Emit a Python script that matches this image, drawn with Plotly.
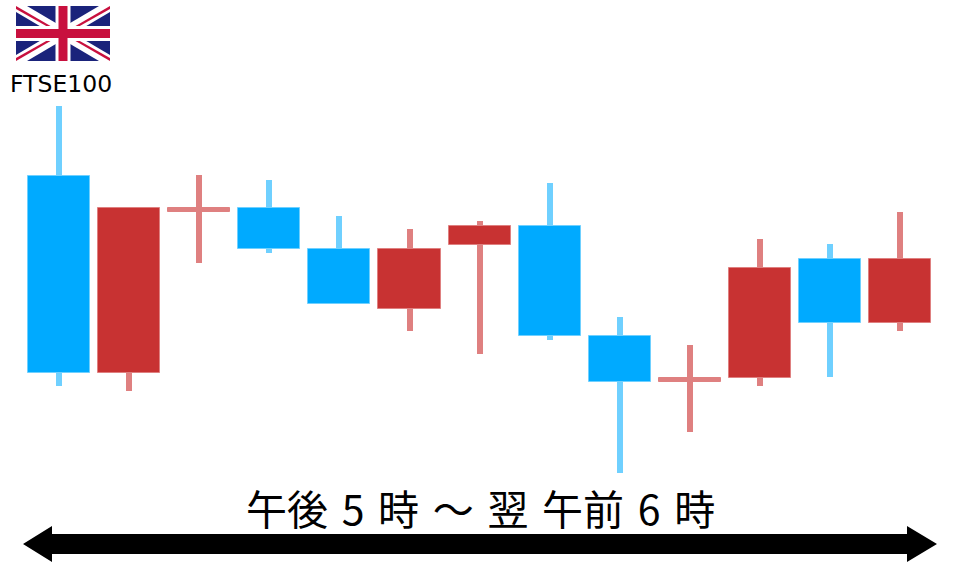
import plotly.graph_objects as go

# Price levels (arbitrary units: no axis is shown)
sessions = list(range(13))
open_ = [194, 359, 359, 318, 263, 318, 341, 231, 185, 189, 299, 244, 308]
close = [391, 194, 355, 359, 318, 258, 322, 341, 231, 185, 189, 308, 244]
high = [461, 360, 392, 387, 351, 338, 346, 384, 250, 222, 328, 323, 355]
low = [181, 176, 304, 314, 264, 236, 213, 227, 94, 135, 181, 190, 236]

title_text = "午後\u20045\u2004時\u2004～\u2004翌\u2004午前\u20046\u2004時"
index_name = "FTSE100"

BLUE, BLUE_L = "#00AAFF", "#6FD0FF"
RED, RED_L = "#C83232", "#DF8080"
W, H = 960, 567


def px(x):
    return x / W


def py(y):
    return 1 - y / H


def poly(points, color):
    d = "M" + " L".join(f"{px(x):.5f},{py(y):.5f}" for x, y in points) + " Z"
    return dict(type="path", xref="paper", yref="paper", path=d,
                fillcolor=color, line=dict(width=0), layer="above")


is_up = [c > o for o, c in zip(open_, close)]
wick_col = [BLUE_L if u else RED_L for u in is_up]
body_col = []
for o, c, u in zip(open_, close, is_up):
    if abs(c - o) < 6:
        body_col.append(BLUE_L if u else RED_L)
    else:
        body_col.append(BLUE if u else RED)

fig = go.Figure()
fig.add_trace(go.Bar(
    x=sessions, base=low, y=[h - l for h, l in zip(high, low)], width=6 / 70,
    marker=dict(color=wick_col, line=dict(width=0)), hoverinfo="skip"))
fig.add_trace(go.Bar(
    x=sessions, base=[min(o, c) for o, c in zip(open_, close)],
    y=[abs(c - o) for o, c in zip(open_, close)], width=62 / 70,
    marker=dict(color=body_col, line=dict(color=wick_col, width=1))))

# Union Jack
x0, x1, y0, y1 = 16, 110, 6, 61
xc, yc = (x0 + x1) / 2, (y0 + y1) / 2
NAVY, CRIM, WHITE = "#1A237B", "#C8103E", "#FFFFFF"
shapes = [poly([(x0, y0), (x1, y0), (x1, y1), (x0, y1)], NAVY)]
for (ax, ay), (bx, by) in [((x0, y0), (x1, y1)), ((x0, y1), (x1, y0))]:
    s = 1 if by > ay else -1
    shapes.append(poly([(ax, ay + 6 * s), (ax, ay), (ax + 11, ay),
                        (bx, by - 6 * s), (bx, by), (bx - 11, by)], WHITE))
shapes += [
    poly([(x0, y0), (x0, y0 + 3), (xc - 7, yc - 2), (xc - 3, yc - 2)], CRIM),
    poly([(x1, y1), (x1, y1 - 3), (xc + 7, yc + 2), (xc + 3, yc + 2)], CRIM),
    poly([(x1, y0), (x1, y0 + 3), (xc + 7, yc - 2), (xc + 3, yc - 2)], CRIM),
    poly([(x0, y1), (x0, y1 - 3), (xc - 7, yc + 2), (xc - 3, yc + 2)], CRIM),
    poly([(xc - 7.5, y0), (xc + 7.5, y0), (xc + 7.5, y1), (xc - 7.5, y1)], WHITE),
    poly([(x0, yc - 7.5), (x1, yc - 7.5), (x1, yc + 7.5), (x0, yc + 7.5)], WHITE),
    poly([(xc - 4.5, y0), (xc + 4.5, y0), (xc + 4.5, y1), (xc - 4.5, y1)], CRIM),
    poly([(x0, yc - 4.5), (x1, yc - 4.5), (x1, yc + 4.5), (x0, yc + 4.5)], CRIM),
]
# Double-headed arrow
shapes.append(poly([(23, 544), (52, 526), (52, 534), (907, 534), (907, 526),
                    (937, 544), (907, 562), (907, 554), (52, 554), (52, 562)],
                   "#000000"))

fig.update_layout(
    width=W, height=H, margin=dict(l=0, r=0, t=0, b=0),
    paper_bgcolor="white", plot_bgcolor="white",
    barmode="overlay", showlegend=False, bargap=0,
    xaxis=dict(range=[-59 / 70.1, (960 - 59) / 70.1], visible=False, fixedrange=True),
    yaxis=dict(range=[0, H], visible=False, fixedrange=True),
    shapes=shapes,
    annotations=[
        dict(text=index_name, xref="paper", yref="paper", x=px(61), y=py(84),
             xanchor="center", yanchor="middle", showarrow=False,
             font=dict(family="DejaVu Sans", size=23.5, color="#000000")),
        dict(text=title_text, xref="paper", yref="paper", x=px(480), y=py(507),
             xanchor="center", yanchor="middle", showarrow=False,
             font=dict(family="Noto Sans CJK JP", size=41, color="#000000")),
    ],
)
fig.write_html("out.html", config=dict(displayModeBar=False),
               post_script="document.body.style.margin='0';document.body.style.overflow='hidden';")
